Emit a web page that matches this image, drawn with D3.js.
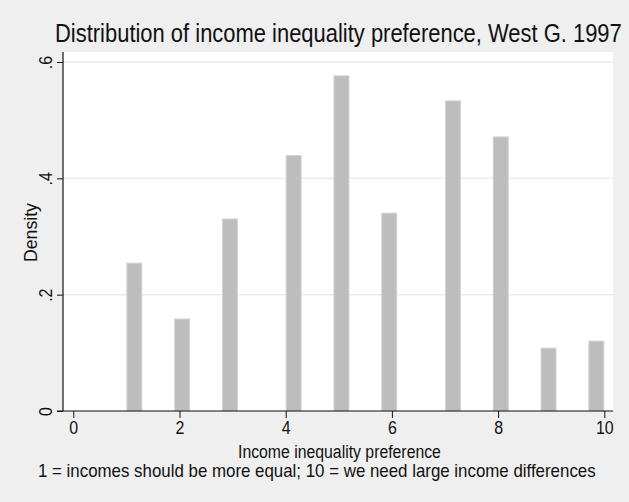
<!DOCTYPE html>
<html>
<head>
<meta charset="utf-8">
<script src="https://cdn.jsdelivr.net/npm/d3@7"></script>
<style>
  body { margin: 0; background: #efefef; }
  text { font-family: "Liberation Sans", Arial, sans-serif; fill: #111; }
</style>
</head>
<body>
<div id="chart"></div>
<script>
// histogram bins (width 0.3) that hold the answers 1..10
const answers = [1, 2, 3, 4, 5, 6, 7, 8, 9, 10];
const binStarts = [1, 1.9, 2.8, 4.0, 4.9, 5.8, 7.0, 7.9, 8.8, 9.7];
const binWidth = 0.3;
const densities = [0.255, 0.159, 0.331, 0.440, 0.577, 0.341, 0.534, 0.472, 0.109, 0.121];
const xTicks = [0, 2, 4, 6, 8, 10];
const yTicks = [0, 0.2, 0.4, 0.6];
const yTickLabels = ['0', '.2', '.4', '.6'];

const titleText = 'Distribution of income inequality preference, West G. 1997';
const xTitle = 'Income inequality preference';
const yTitle = 'Density';
const noteText = '1 = incomes should be more equal; 10 = we need large income differences';

const width = 629, height = 502;
const plot = { left: 63, right: 613, top: 52, bottom: 411 };

const svg = d3.select('#chart').append('svg')
  .attr('width', width)
  .attr('height', height);

svg.append('rect').attr('width', width).attr('height', height).attr('fill', '#efefef');

const x = d3.scaleLinear().domain([0, 10]).range([73.3, 604.3]);
const y = d3.scaleLinear().domain([0, 0.6]).range([plot.bottom, 62]);

svg.append('rect')
  .attr('x', plot.left).attr('y', plot.top)
  .attr('width', plot.right - plot.left).attr('height', plot.bottom - plot.top)
  .attr('fill', '#fff');

// gridlines
svg.append('g').selectAll('line')
  .data(yTicks.slice(1))
  .join('line')
  .attr('x1', plot.left).attr('x2', plot.right)
  .attr('y1', d => y(d)).attr('y2', d => y(d))
  .attr('stroke', '#ebebeb')
  .attr('stroke-width', 1.5);

// bars
const bins = answers.map((a, i) => ({ answer: a, x0: binStarts[i], x1: binStarts[i] + binWidth, density: densities[i] }));

svg.append('g').selectAll('rect')
  .data(bins)
  .join('rect')
  .attr('x', d => x(d.x0) + 0.5)
  .attr('width', d => x(d.x1) - x(d.x0) - 1)
  .attr('y', d => y(d.density) + 0.5)
  .attr('height', d => y(0) - y(d.density) - 0.5)
  .attr('fill', '#bdbdbd')
  .attr('stroke', '#d2d2d2')
  .attr('stroke-width', 1);

// narrow glyphs like the original: squeeze horizontally
const squeeze = 0.84;

// x axis
const xAxis = svg.append('g')
  .attr('transform', `translate(0,${plot.bottom})`)
  .call(d3.axisBottom(x).tickValues(xTicks).tickSize(7).tickPadding(3).tickFormat(d3.format('d')));
xAxis.select('.domain').remove();
xAxis.append('line')
  .attr('x1', plot.left - 6).attr('x2', plot.right)
  .attr('stroke', '#111').attr('stroke-width', 1.2);
xAxis.selectAll('.tick line').attr('stroke', '#111');
xAxis.selectAll('.tick text')
  .style('font-size', '19px')
  .attr('fill', '#111')
  .attr('transform', `scale(${squeeze},1)`);

// y axis
const yAxis = svg.append('g')
  .attr('transform', `translate(${plot.left},0)`)
  .call(d3.axisLeft(y).tickValues(yTicks).tickSize(6).tickPadding(0).tickFormat((d, i) => yTickLabels[i]));
yAxis.select('.domain').remove();
yAxis.append('line')
  .attr('y1', plot.top).attr('y2', plot.bottom)
  .attr('stroke', '#111').attr('stroke-width', 1.2);
yAxis.selectAll('.tick line').attr('stroke', '#111');
yAxis.selectAll('.tick text')
  .style('font-size', '19px')
  .attr('fill', '#111')
  .attr('text-anchor', 'middle')
  .attr('x', null).attr('dy', null)
  .attr('transform', `translate(-11,0) rotate(-90) scale(${squeeze},1)`);

// squeeze a text to a target width (the original uses a narrow face)
function fitText(g, target) {
  const t = g.select('text');
  const len = t.node().getComputedTextLength();
  t.attr('transform', `scale(${target / len},1)`);
}

const titleG = svg.append('g').attr('transform', 'translate(55,42)');
titleG.append('text')
  .style('font-size', '25px')
  .attr('fill', '#222')
  .text(titleText);
fitText(titleG, 567);

const xTitleG = svg.append('g').attr('transform', 'translate(238,458)');
xTitleG.append('text')
  .style('font-size', '19px')
  .text(xTitle);
fitText(xTitleG, 203);

const yTitleG = svg.append('g').attr('transform', 'translate(37,262) rotate(-90)');
yTitleG.append('text')
  .style('font-size', '18px')
  .text(yTitle);
fitText(yTitleG, 59);

const noteG = svg.append('g').attr('transform', 'translate(38,477)');
noteG.append('text')
  .style('font-size', '18px')
  .text(noteText);
fitText(noteG, 558);
</script>
</body>
</html>
